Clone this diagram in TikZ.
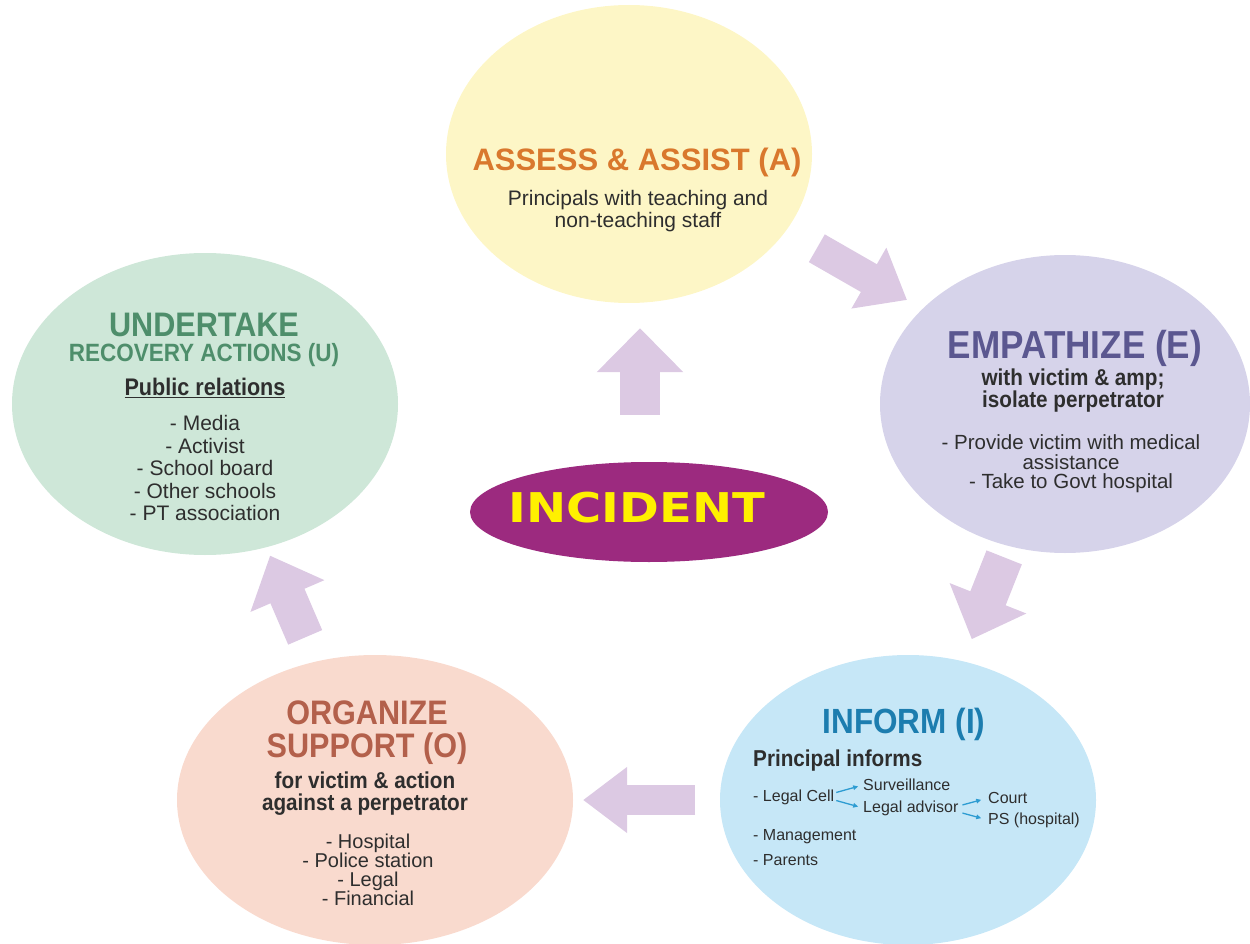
\documentclass[tikz,border=0pt]{standalone}
\usepackage{tikz}
\usepackage{xcolor}
\usepackage{fontspec}
\setmainfont{Liberation Sans}
\newfontfamily\headfont[FakeStretch=0.9]{Liberation Sans}
\newfontfamily\incfont[FakeStretch=1.17]{DejaVu Sans}
\usetikzlibrary{shapes.geometric}
\usetikzlibrary{arrows.meta}
\usetikzlibrary{calc}
\usetikzlibrary{positioning}

\definecolor{afill}{HTML}{FDF6C6}
\definecolor{atext}{HTML}{D9782D}
\definecolor{efill}{HTML}{D6D3EA}
\definecolor{etext}{HTML}{5B5790}
\definecolor{ifill}{HTML}{C6E7F7}
\definecolor{itext}{HTML}{1C7DAF}
\definecolor{ofill}{HTML}{F9DACE}
\definecolor{otext}{HTML}{B3604B}
\definecolor{ufill}{HTML}{CEE7D8}
\definecolor{utext}{HTML}{4E8E6B}
\definecolor{incfill}{HTML}{9C2A7F}
\definecolor{inctext}{HTML}{FFF000}
\definecolor{flowc}{HTML}{DCC9E3}
\definecolor{txtc}{HTML}{2E2E2E}
\definecolor{branchc}{HTML}{2D9CD2}

\begin{document}
\begin{tikzpicture}[x=1pt, y=-1pt,
  blob/.style={ellipse, inner sep=0pt, draw=none},
  ttl/.style={font=\headfont\bfseries\fontsize{34}{33}\selectfont, align=center, inner sep=0pt},
  sub/.style={font=\headfont\bfseries\fontsize{23}{22}\selectfont, text=txtc, align=center, inner sep=0pt},
  body/.style={font=\fontsize{21}{22.5}\selectfont, text=txtc, align=center, inner sep=0pt},
  leaf/.style={font=\fontsize{16}{18}\selectfont, text=txtc, anchor=west, inner sep=0pt},
  flow/.style={draw=flowc, line width=#1, -{Triangle[length=44pt, width=0pt 2.1]}},
  branch/.style={draw=branchc, line width=1.3pt, -{Triangle[length=5pt, width=4.5pt]}}
]
\useasboundingbox (0,0) rectangle (1250,944);

\node[blob, fill=afill, minimum width=366pt, minimum height=298pt] (ea) at (629,154) {};
\node[blob, fill=efill, minimum width=370pt, minimum height=298pt] (ee) at (1065,404) {};
\node[blob, fill=ifill, minimum width=376pt, minimum height=290pt] (ei) at (908,800) {};
\node[blob, fill=ofill, minimum width=396pt, minimum height=290pt] (eo) at (375,800) {};
\node[blob, fill=ufill, minimum width=386pt, minimum height=302pt] (eu) at (205,404) {};
\node[blob, fill=incfill, minimum width=358pt, minimum height=100pt] (inc) at (649,512) {};

\node[ttl, text=inctext, font=\incfont\bfseries\fontsize{41}{44}\selectfont] (tinc) at ($(inc)+(-12,-4)$) {INCIDENT};

\node[ttl, text=atext, font=\bfseries\fontsize{31}{34}\selectfont] (ta) at ($(ea)+(8,8)$) {ASSESS \& ASSIST (A)};
\node[body] (ba) at ($(ea)+(9,57)$) {Principals with teaching and\\non-teaching staff};

\node[ttl, text=etext, font=\headfont\bfseries\fontsize{39}{40}\selectfont] (te) at ($(ee)+(10,-56)$) {EMPATHIZE (E)};
\node[sub] (se) at ($(ee)+(8,-13)$) {with victim \& amp;\\isolate perpetrator};
\node[body, font=\fontsize{20.5}{19.5}\selectfont] (be) at ($(ee)+(6,60)$) {- Provide victim with medical\\assistance\\- Take to Govt hospital};

\node[ttl, text=itext, font=\headfont\bfseries\fontsize{35}{38}\selectfont] (ti) at ($(ei)+(-4,-76)$) {INFORM (I)};
\node[sub, anchor=west] (pi) at ($(ei)+(-155,-39)$) {Principal informs};
\node[leaf] (lc) at ($(ei)+(-155,-3)$) {- Legal Cell};
\node[leaf] (sv) at ($(ei)+(-45,-15)$) {Surveillance};
\node[leaf] (la) at ($(ei)+(-45,8)$) {Legal advisor};
\node[leaf] (ct) at ($(ei)+(80,-2)$) {Court};
\node[leaf] (ps) at ($(ei)+(80,20)$) {PS (hospital)};
\node[leaf] (mg) at ($(ei)+(-155,37)$) {- Management};
\node[leaf] (pa) at ($(ei)+(-155,60)$) {- Parents};

\draw[branch, shorten <=2pt, shorten >=5pt] ([yshift=4pt]lc.east) -- (sv.west);
\draw[branch, shorten <=2pt, shorten >=5pt] ([yshift=-3pt]lc.east) -- (la.west);
\draw[branch, shorten <=4pt, shorten >=7pt] ([yshift=2pt]la.east) -- (ct.west);
\draw[branch, shorten <=4pt, shorten >=7pt] ([yshift=-4pt]la.east) -- (ps.west);

\node[ttl, text=otext] (to) at ($(eo)+(-8,-67.5)$) {ORGANIZE\\SUPPORT (O)};
\node[sub] (so) at ($(eo)+(-10,-6)$) {for victim \& action\\against a perpetrator};
\node[body, font=\fontsize{20}{19}\selectfont] (bo) at ($(eo)+(-7,70)$) {- Hospital\\- Police station\\- Legal\\- Financial};

\node[ttl, text=utext] (tu) at ($(eu)+(-1,-79)$) {UNDERTAKE};
\node[ttl, text=utext, font=\headfont\bfseries\fontsize{25}{28}\selectfont] (ru) at ($(eu)+(-1,-49)$) {RECOVERY ACTIONS (U)};
\node[sub, font=\headfont\bfseries\fontsize{24}{26}\selectfont] (pu) at ($(eu)+(0,-16)$) {\underline{Public relations}};
\node[body] (bu) at ($(eu)+(0,64)$) {- Media\\- Activist\\- School board\\- Other schools\\- PT association};

\draw[flow=40pt, transform canvas={xshift=-9pt}, shorten <=47pt, shorten >=25pt] (inc.north) -- (ea.south -| inc.north);
\draw[flow=32pt, transform canvas={shift={(6pt,10pt)}}, shorten <=209.6pt, shorten >=189pt] (ea.center) -- (ee.center);
\draw[flow=38pt, shorten <=165pt, shorten >=173pt] (ee.center) -- (ei.center);
\draw[flow=30pt, shorten <=213pt, shorten >=208pt] (ei.center) -- (eo.center);
\draw[flow=37pt, shorten <=177pt, shorten >=165pt] (eo.center) -- (eu.center);
\end{tikzpicture}
\end{document}
